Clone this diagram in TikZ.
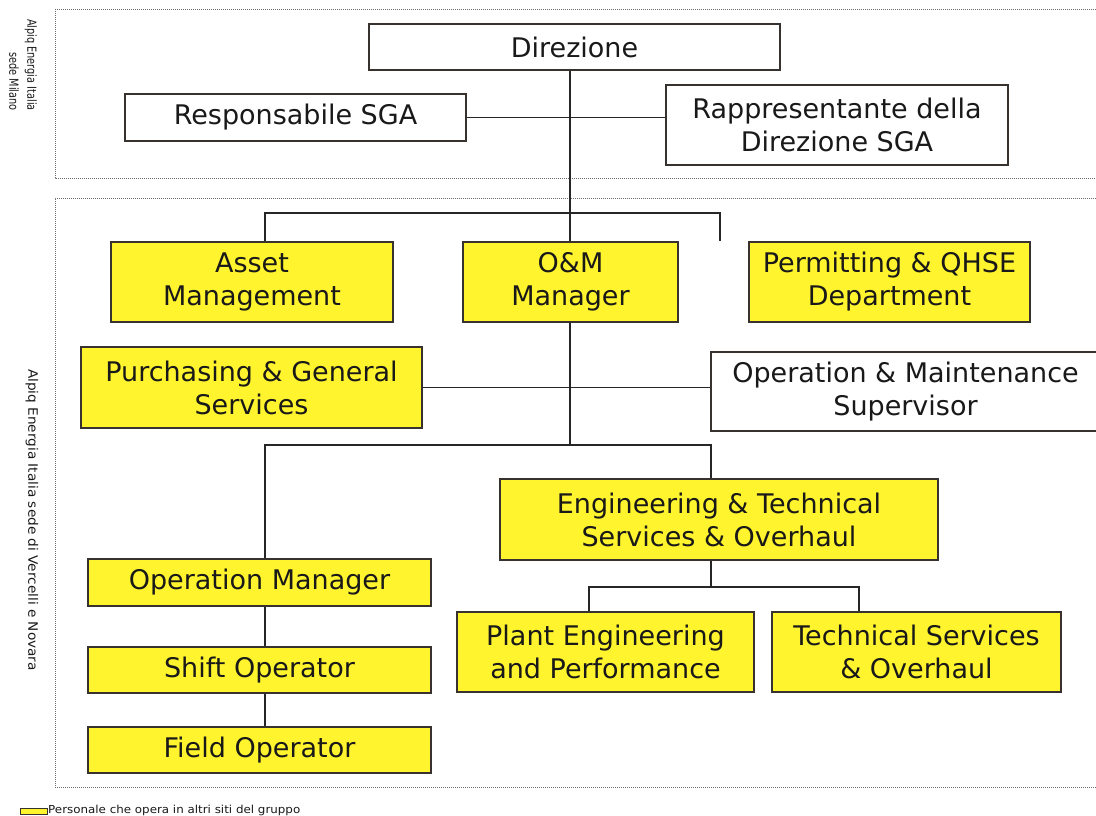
\documentclass[tikz,border=0pt]{standalone}
\usepackage{fontspec}
\usepackage{graphicx}
\setmainfont{DejaVu Sans}
\definecolor{boxyellow}{RGB}{255,244,45}
\definecolor{boxedge}{RGB}{55,50,45}
\definecolor{frameline}{RGB}{110,110,110}
\begin{document}
\begin{tikzpicture}[x=1pt,y=-1pt,
  box/.style={draw=boxedge, line width=1.5pt, fill=white, align=center, inner sep=0pt,
    font=\fontsize{27}{33}\selectfont, text=black!90},
  ybox/.style={box, fill=boxyellow},
  conn/.style={draw=black!85, line width=1.1pt},
  frame/.style={draw=frameline, line width=1pt, densely dotted},
  side/.style={rotate=-90, inner sep=0pt, text=black!90}]
\useasboundingbox (0,0) rectangle (1096,816);
% frames
\draw[frame] (1096,10) -- (55,10) -- (55,178) -- (1096,178);
\draw[frame] (1096,198) -- (55,198) -- (55,787) -- (1096,787);
% side labels
\node[side, align=right, anchor=east, font=\fontsize{12.5}{18}\selectfont] (lblmi) at (23,111)
  {\scalebox{0.78}[1]{Alpiq Energia Italia}\\\scalebox{0.78}[1]{sede Milano}};
\node[side, font=\fontsize{13}{15}\selectfont] (lblvn) at (32,520)
  {\scalebox{1.05}[1]{Alpiq Energia Italia sede di Vercelli e Novara}};
% boxes
\node[box, minimum width=411pt, minimum height=46pt] (dir) at (574.5,47) {Direzione};
\node[box, minimum width=341pt, minimum height=47pt] (resp) at (295.5,117.5) {Responsabile SGA};
\node[box, minimum width=342pt, minimum height=80pt] (rapp) at (837,125) {Rappresentante della\\Direzione SGA};
\node[ybox, minimum width=282pt, minimum height=80pt] (asset) at (252,282) {Asset\\Management};
\node[ybox, minimum width=215pt, minimum height=80pt] (om) at (570.5,282) {O\&M\\Manager};
\node[ybox, minimum width=281pt, minimum height=80pt] (perm) at (889.5,282) {Permitting \& QHSE\\Department};
\node[ybox, minimum width=341pt, minimum height=81pt] (purch) at (251.5,387.5) {Purchasing \& General\\Services};
\node[box, minimum width=389pt, minimum height=79pt] (oms) at (905.5,391.5) {Operation \& Maintenance\\Supervisor};
\node[ybox, minimum width=438pt, minimum height=81pt] (et) at (719,519.5) {Engineering \& Technical\\Services \& Overhaul};
\node[ybox, minimum width=297pt, minimum height=80pt] (plant) at (605.5,652) {Plant Engineering\\and Performance};
\node[ybox, minimum width=289pt, minimum height=80pt] (tech) at (916.5,652) {Technical Services\\\& Overhaul};
\node[ybox, minimum width=343pt, minimum height=47pt] (opm) at (259.5,582.5) {Operation Manager};
\node[ybox, minimum width=343pt, minimum height=46pt] (shift) at (259.5,670) {Shift Operator};
\node[ybox, minimum width=343pt, minimum height=46pt] (field) at (259.5,750) {Field Operator};
% bus coordinates
\coordinate (trunk) at (570,0);
\coordinate (busA) at (0,213);
\coordinate (busB) at (0,445);
\coordinate (busC) at (0,587);
\coordinate (xa) at (265,0);
\coordinate (xp) at (720,0);
\coordinate (xe) at (711,0);
\coordinate (xpl) at (589,0);
\coordinate (xt) at (859,0);
% connectors
\draw[conn] (dir.south -| trunk) -- (om.north -| trunk);
\draw[conn] (resp.east) -- (resp.east -| rapp.west);
\draw[conn] (asset.north -| xa) |- (busA -| xp) -- (perm.north -| xp);
\draw[conn] (purch.east) -- (purch.east -| oms.west);
\draw[conn] (om.south -| trunk) -- (busB -| trunk);
\draw[conn] (opm.north -| xa) |- (busB -| xe) -- (et.north -| xe);
\draw[conn] (et.south -| xe) -- (busC -| xe);
\draw[conn] (plant.north -| xpl) |- (busC -| xt) -- (tech.north -| xt);
\draw[conn] (opm.south -| xa) -- (shift.north -| xa);
\draw[conn] (shift.south -| xa) -- (field.north -| xa);
% legend
\node[draw=boxedge, line width=0.8pt, fill=boxyellow, minimum width=27pt, minimum height=6pt, inner sep=0pt] (legbox) at (33.5,811.5) {};
\node[anchor=west, inner sep=0pt, font=\fontsize{11}{12}\selectfont, text=black!90] (legtxt) at (48,810.5)
  {\scalebox{1.08}[1]{Personale che opera in altri siti del gruppo}};
\end{tikzpicture}
\end{document}
